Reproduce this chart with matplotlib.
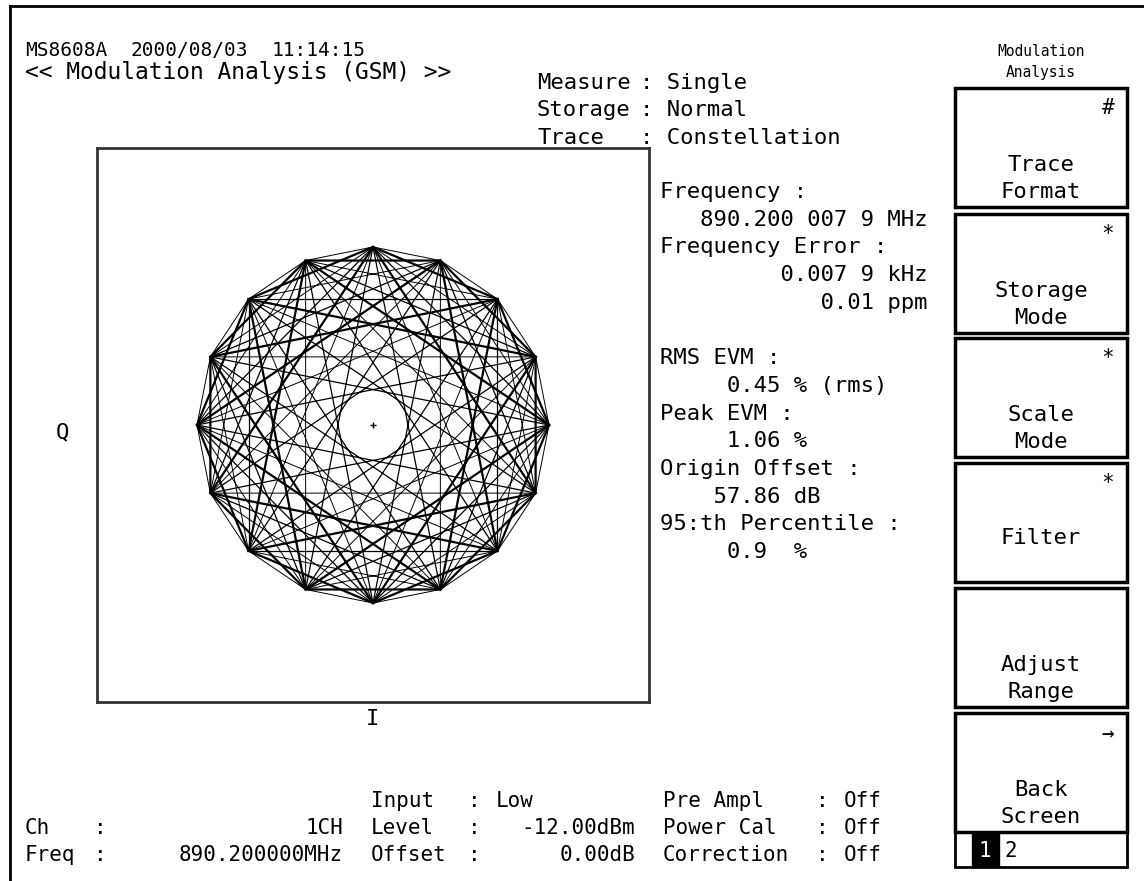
import numpy as np
import matplotlib
matplotlib.use("Agg")
import matplotlib.pyplot as plt
from matplotlib.patches import Rectangle

# phase states visited by the trace, in steps of 22.5 deg on the unit circle
STEP_DEG = 22.5
trace_k1 = [0, 1, 2, 3, 4, 5, 6, 7, 8, 9, 10, 11, 12, 13, 14, 15, 0]
trace_k2a = [0, 2, 4, 6, 8, 10, 12, 14, 0]
trace_k2b = [1, 3, 5, 7, 9, 11, 13, 15, 1]
trace_k3 = [0, 3, 6, 9, 12, 15, 2, 5, 8, 11, 14, 1, 4, 7, 10, 13, 0]
trace_k4a = [0, 4, 8, 12, 0]
trace_k4b = [1, 5, 9, 13, 1]
trace_k4c = [2, 6, 10, 14, 2]
trace_k4d = [3, 7, 11, 15, 3]
trace_k5 = [0, 5, 10, 15, 4, 9, 14, 3, 8, 13, 2, 7, 12, 1, 6, 11, 0]
trace_k6a = [0, 6, 12, 2, 8, 14, 4, 10, 0]
trace_k6b = [1, 7, 13, 3, 9, 15, 5, 11, 1]
trace_k7 = [0, 7, 14, 5, 12, 3, 10, 1, 8, 15, 6, 13, 4, 11, 2, 9, 0]

header = ["MS8608A", "2000/08/03", "11:14:15"]
title = "<< Modulation Analysis (GSM) >>"
setup_keys = ["Measure", "Storage", "Trace"]
setup_vals = ["Single", "Normal", "Constellation"]

results = [
    "Frequency :",
    "   890.200 007 9 MHz",
    "Frequency Error :",
    "         0.007 9 kHz",
    "            0.01 ppm",
    "",
    "RMS EVM :",
    "     0.45 % (rms)",
    "Peak EVM :",
    "     1.06 %",
    "Origin Offset :",
    "    57.86 dB",
    "95:th Percentile :",
    "     0.9  %",
]

soft_title = ["Modulation", "Analysis"]
soft_keys = [["Trace", "Format"], ["Storage", "Mode"], ["Scale", "Mode"],
             ["Filter"], ["Adjust", "Range"], ["Back", "Screen"]]
soft_marks = ["#", "*", "*", "*", "", "→"]

bottom_left = [("Ch", "1CH"), ("Freq", "890.200000MHz")]
bottom_mid = [("Input", "Low"), ("Level", "-12.00dBm"), ("Offset", "0.00dB")]
bottom_right = [("Pre Ampl", "Off"), ("Power Cal", "Off"), ("Correction", "Off")]

W, H = 1144, 881
MONO = "DejaVu Sans Mono"

fig = plt.figure(figsize=(W / 100, H / 100), dpi=100)
bg = fig.add_axes([0, 0, 1, 1])
bg.set_xlim(0, W)
bg.set_ylim(H, 0)
bg.axis("off")


def put(x, y, s, size=16, ha="left", color="black", **kw):
    bg.text(x, y, s, fontsize=size, family=MONO, ha=ha, va="center",
            color=color, **kw)


# screen frame
bg.plot([10, 10], [6, H], color="black", lw=2)
bg.plot([10, W], [6, 6], color="black", lw=2)

# header
put(25, 51, header[0], 14)
put(130, 51, header[1], 14)
put(272, 51, header[2], 14)
put(25, 72, title, 16.5)
for i, (k, v) in enumerate(zip(setup_keys, setup_vals)):
    y = 83 + i * 27.5
    put(537, y, k)
    put(640, y, ": " + v)

# measurement results
for i, s in enumerate(results):
    put(660, 192 + i * 27.7, s)

# constellation
x0, y0, x1, y1 = 97, 148, 649, 702
ax = fig.add_axes([x0 / W, 1 - y1 / H, (x1 - x0) / W, (y1 - y0) / H])
traces = [trace_k1, trace_k2a, trace_k2b, trace_k3, trace_k4a, trace_k4b,
          trace_k4c, trace_k4d, trace_k5, trace_k6a, trace_k6b, trace_k7]
widths = [0.7, 1.6, 1.6, 0.7, 0.9, 0.9, 0.9, 0.9, 1.6, 0.7, 0.7, 0.9]
for tr, lw in zip(traces, widths):
    ang = np.deg2rad(np.array(tr) * STEP_DEG)
    ax.plot(np.cos(ang), np.sin(ang), color="black", lw=lw,
            solid_joinstyle="miter")
ax.plot([0], [0], marker="+", color="black", ms=5, mew=1)
ax.set_xlim(-1.568, 1.568)
ax.set_ylim(-1.556, 1.556)
ax.set_xticks([])
ax.set_yticks([])
for sp in ax.spines.values():
    sp.set_linewidth(2)
    sp.set_color("#333333")
put(56, 432, "Q")
put(373, 719, "I", ha="center")

# soft keys
put(1041, 52, soft_title[0], 10.5, ha="center")
put(1041, 72, soft_title[1], 10.5, ha="center")
key_tops = [88, 214, 338, 463, 588, 713]
for top, lines, mark in zip(key_tops, soft_keys, soft_marks):
    bg.add_patch(Rectangle((955, top), 172, 119, fill=False, lw=2.5,
                           edgecolor="black"))
    if mark:
        put(1108, top + 20, mark, 15, ha="center")
    base = top + 77 if len(lines) == 2 else top + 75
    for j, s in enumerate(lines):
        put(1041, base + j * 27, s, ha="center")
bg.add_patch(Rectangle((955, 832), 172, 35, fill=False, lw=2,
                       edgecolor="black"))
bg.add_patch(Rectangle((972, 833), 27, 33, color="black"))
put(985, 851, "1", 15, ha="center", color="white")
put(1005, 851, "2", 15)

# bottom status lines
FS_B = 15
for i, (k, v) in enumerate(bottom_left):
    y = 828 + i * 27
    put(25, y, k, FS_B)
    put(94, y, ":", FS_B)
    put(343, y, v, FS_B, ha="right")
for i, (k, v) in enumerate(bottom_mid):
    y = 801 + i * 27
    put(371, y, k, FS_B)
    put(468, y, ":", FS_B)
    if i == 0:
        put(496, y, v, FS_B)
    else:
        put(635, y, v, FS_B, ha="right")
for i, (k, v) in enumerate(bottom_right):
    y = 801 + i * 27
    put(663, y, k, FS_B)
    put(816, y, ":", FS_B)
    put(844, y, v, FS_B)

fig.savefig("out.png", dpi=100, facecolor="white")
